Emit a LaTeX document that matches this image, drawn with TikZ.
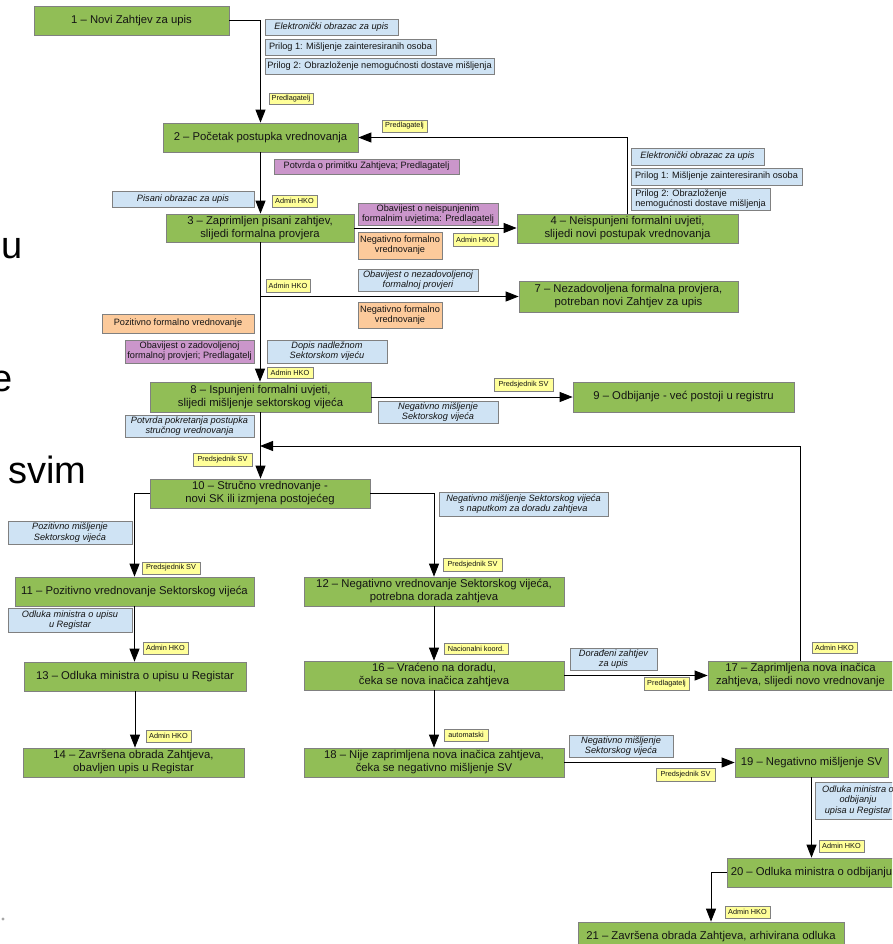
\documentclass[tikz,border=0pt]{standalone}
\usepackage{fontspec}
\setmainfont{Liberation Sans}
\usetikzlibrary{arrows.meta}
\definecolor{ngreen}{RGB}{145,190,86}
\definecolor{bgray}{RGB}{128,128,128}
\definecolor{lblue}{RGB}{207,227,244}
\definecolor{lpurple}{RGB}{203,150,203}
\definecolor{lorange}{RGB}{252,202,155}
\definecolor{lyellow}{RGB}{255,255,153}
\definecolor{txt}{RGB}{20,20,20}
\newcommand\nfont{\fontsize{11.3}{13}\selectfont}
\newcommand\lfont{\fontsize{9.2}{10.2}\selectfont}
\newcommand\yfont{\fontsize{7.3}{8}\selectfont}
\newcommand\mkbox[7]{%
  \pgfmathsetmacro\bxw{#5-#3}\pgfmathsetmacro\bxh{#6-#4}%
  \pgfmathsetmacro\bxcx{(#3+#5)/2}\pgfmathsetmacro\bxcy{(#4+#6)/2}%
  \node[#2, minimum width=\bxw pt, minimum height=\bxh pt] (#1) at (\bxcx,\bxcy) {#7};}
\tikzset{
  boxbase/.style={draw=bgray, line width=0.7pt, inner sep=0pt, align=center, text=txt},
  gnode/.style={boxbase, fill=ngreen, font=\nfont},
  bl/.style={boxbase, fill=lblue, font=\lfont},
  bli/.style={boxbase, fill=lblue, font=\lfont\itshape},
  pl/.style={boxbase, fill=lpurple, font=\lfont},
  ol/.style={boxbase, fill=lorange, font=\lfont},
  yl/.style={boxbase, fill=lyellow, font=\yfont},
  arr/.style={-{Triangle[length=13pt,width=10pt]}, line width=0.9pt, draw=black},
  bgtext/.style={anchor=base west, inner sep=0pt, font=\fontsize{38}{42}\selectfont, text=black}
}
\begin{document}
\begin{tikzpicture}[x=1pt,y=-1pt]
\useasboundingbox (0,0) rectangle (892,944);
\fill[white] (0,0) rectangle (892,944);
\clip (0,0) rectangle (892,944);

% background slide fragments
\node[bgtext] (bgu) at (1,258) {u};
\node[bgtext] (bge) at (-9,391) {e};
\node[bgtext] (bgs) at (8,483) {svim};
\fill[gray!70] (3,919) circle (1.6);

% main nodes
\mkbox{n1}{gnode}{34}{6}{229}{35}{1 – Novi Zahtjev za upis}
\mkbox{n2}{gnode}{163}{123}{358}{152}{2 – Početak postupka vrednovanja}
\mkbox{n3}{gnode}{166}{214}{354}{242}{3 – Zaprimljen pisani zahtjev,\\ slijedi formalna provjera}
\mkbox{n4}{gnode}{517}{214}{738}{243}{4 – Neispunjeni formalni uvjeti,\\ slijedi novi postupak vrednovanja}
\mkbox{n7}{gnode}{519}{281}{738}{312}{7 – Nezadovoljena formalna provjera,\\ potreban novi Zahtjev za upis}
\mkbox{n8}{gnode}{150}{382}{371}{412}{8 – Ispunjeni formalni uvjeti,\\ slijedi mišljenje sektorskog vijeća}
\mkbox{n9}{gnode}{573}{382}{794}{412}{9 – Odbijanje - već postoji u registru}
\mkbox{n10}{gnode}{150}{479}{370}{508}{10 – Stručno vrednovanje -\\ novi SK ili izmjena postojećeg}
\mkbox{n11}{gnode}{15}{577}{254}{606}{11 – Pozitivno vrednovanje Sektorskog vijeća}
\mkbox{n12}{gnode}{304}{577}{564}{606}{12 – Negativno vrednovanje Sektorskog vijeća,\\ potrebna dorada zahtjeva}
\mkbox{n13}{gnode}{24}{662}{246}{691}{13 – Odluka ministra o upisu u Registar}
\mkbox{n14}{gnode}{23}{748}{244}{777}{14 – Završena obrada Zahtjeva,\\ obavljen upis u Registar}
\mkbox{n16}{gnode}{304}{661}{564}{690}{16 – Vraćeno na doradu,\\ čeka se nova inačica zahtjeva}
\mkbox{n17}{gnode}{708}{661}{893}{690}{17 – Zaprimljena nova inačica\\ zahtjeva, slijedi novo vrednovanje}
\mkbox{n18}{gnode}{304}{748}{564}{777}{18 – Nije zaprimljena nova inačica zahtjeva,\\ čeka se negativno mišljenje SV}
\mkbox{n19}{gnode}{735}{748}{888}{777}{19 – Negativno mišljenje SV}
\mkbox{n20}{gnode}{727}{858}{896}{887}{20 – Odluka ministra o odbijanju}
\mkbox{n21}{gnode}{578}{922}{844}{951}{21 – Završena obrada Zahtjeva, arhivirana odluka}

% blue labels
\mkbox{b1}{bli}{265}{19}{398}{35}{Elektronički obrazac za upis}
\mkbox{b2}{bl}{265}{39}{436}{55}{Prilog 1: Mišljenje zainteresiranih osoba}
\mkbox{b3}{bl}{265}{58}{494}{74}{Prilog 2: Obrazloženje nemogućnosti dostave mišljenja}
\mkbox{b4}{bli}{631}{148}{764}{165}{Elektronički obrazac za upis}
\mkbox{b5}{bl}{631}{168}{802}{185}{Prilog 1: Mišljenje zainteresiranih osoba}
\mkbox{b6}{bl,align=left}{631}{188}{770}{210}{Prilog 2: Obrazloženje\\nemogućnosti dostave mišljenja}
\mkbox{b7}{bli}{112}{191}{254}{207}{Pisani obrazac za upis}
\mkbox{b8}{bli}{358}{269}{478}{291}{Obavijest o nezadovoljenoj\\formalnoj provjeri}
\mkbox{b9}{bli}{267}{340}{387}{363}{Dopis nadležnom\\Sektorskom vijeću}
\mkbox{b10}{bli}{125}{415}{254}{437}{Potvrda pokretanja postupka\\stručnog vrednovanja}
\mkbox{b11}{bli}{378}{401}{498}{423}{Negativno mišljenje\\Sektorskog vijeća}
\mkbox{b12}{bli}{439}{492}{608}{516}{Negativno mišljenje Sektorskog vijeća\\s naputkom za doradu zahtjeva}
\mkbox{b13}{bli}{8}{521}{132}{544}{Pozitivno mišljenje\\Sektorskog vijeća}
\mkbox{b14}{bli}{8}{608}{132}{632}{Odluka ministra o upisu\\u Registar}
\mkbox{b15}{bli}{570}{648}{657}{670}{Dorađeni zahtjev\\za upis}
\mkbox{b16}{bli}{569}{735}{673}{757}{Negativno mišljenje\\Sektorskog vijeća}
\mkbox{b17}{bli}{815}{782}{901}{819}{Odluka ministra o\\odbijanju\\upisa u Registar}

% purple labels
\mkbox{p1}{pl}{274}{159}{459}{174}{Potvrda o primitku Zahtjeva; Predlagatelj}
\mkbox{p2}{pl}{358}{203}{498}{225}{Obavijest o neispunjenim\\formalnim uvjetima: Predlagatelj}
\mkbox{p3}{pl}{125}{340}{254}{363}{Obavijest o zadovoljenoj\\formalnoj provjeri; Predlagatelj}

% orange labels
\mkbox{o1}{ol}{358}{232}{442}{259}{Negativno formalno\\vrednovanje}
\mkbox{o2}{ol}{358}{302}{442}{328}{Negativno formalno\\vrednovanje}
\mkbox{o3}{ol}{102}{314}{254}{333}{Pozitivno formalno vrednovanje}

% yellow labels
\mkbox{y1}{yl}{269}{93}{313}{104}{Predlagatelj}
\mkbox{y2}{yl}{382}{120}{427}{132}{Predlagatelj}
\mkbox{y3}{yl}{272}{195}{317}{207}{Admin HKO}
\mkbox{y4}{yl}{453}{233}{498}{246}{Admin HKO}
\mkbox{y5}{yl}{266}{279}{310}{292}{Admin HKO}
\mkbox{y6}{yl}{267}{367}{313}{378}{Admin HKO}
\mkbox{y7}{yl}{494}{378}{553}{391}{Predsjednik SV}
\mkbox{y8}{yl}{193}{453}{252}{466}{Predsjednik SV}
\mkbox{y9}{yl}{142}{562}{200}{574}{Predsjednik SV}
\mkbox{y10}{yl}{443}{558}{502}{571}{Predsjednik SV}
\mkbox{y11}{yl}{143}{642}{188}{654}{Admin HKO}
\mkbox{y12}{yl}{444}{643}{508}{654}{Nacionalni koord.}
\mkbox{y13}{yl}{644}{677}{689}{690}{Predlagatelj}
\mkbox{y14}{yl}{812}{642}{857}{653}{Admin HKO}
\mkbox{y15}{yl}{146}{730}{191}{742}{Admin HKO}
\mkbox{y16}{yl}{444}{729}{488}{741}{automatski}
\mkbox{y17}{yl}{656}{768}{715}{781}{Predsjednik SV}
\mkbox{y18}{yl}{819}{840}{864}{852}{Admin HKO}
\mkbox{y19}{yl}{725}{906}{770}{918}{Admin HKO}

% connectors
\coordinate (j17) at (n10.north |- 0,446);
\draw[arr] (n1.east) -| (n2.north);
\draw[arr] (n4.north) |- (n2.east);
\draw[arr] (n2.south) -- (n2.south |- n3.north);
\draw[arr] (n3.east) -- (n3.east -| n4.west);
\draw[arr] (n3.south |- n7.west) -- (n7.west);
\draw[arr] (n3.south) -- (n3.south |- n8.north);
\draw[arr] (n8.east) -- (n8.east -| n9.west);
\draw[arr] (n8.south) -- (n8.south |- n10.north);
\draw[arr] (n17.north) |- (j17);
\draw[arr] (n10.west) -| (n11.north);
\draw[arr] (n10.east) -| (n12.north);
\draw[arr] (n11.south) -- (n11.south |- n13.north);
\draw[arr] (n13.south) -- (n13.south |- n14.north);
\draw[arr] (n12.south) -- (n12.south |- n16.north);
\draw[arr] (n16.east) -- (n16.east -| n17.west);
\draw[arr] (n16.south) -- (n16.south |- n18.north);
\draw[arr] (n18.east) -- (n18.east -| n19.west);
\draw[arr] (n19.south) -- (n19.south |- n20.north);
\draw[arr] (n20.west) -| (n21.north);
\end{tikzpicture}
\end{document}
